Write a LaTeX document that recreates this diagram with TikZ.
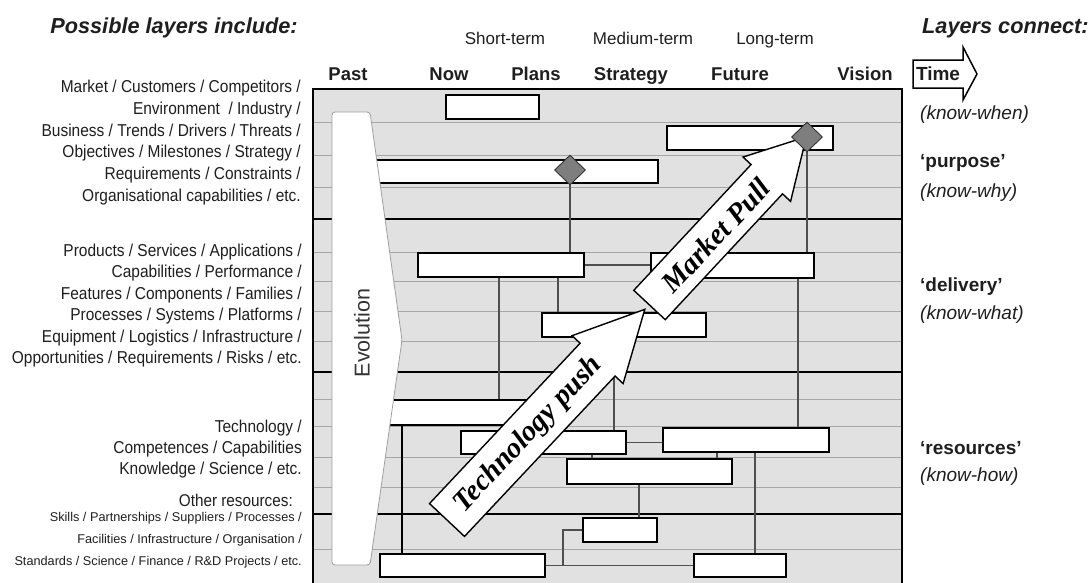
\documentclass[tikz,border=0pt]{standalone}
\usepackage{fontspec}
\setmainfont{Liberation Sans}
\newfontfamily\narrowfont[FakeStretch=0.9]{Liberation Sans}
\newfontfamily\arrowfont{Liberation Serif}
\usetikzlibrary{shapes.geometric}

\pgfdeclarelayer{back}
\pgfdeclarelayer{links}
\pgfdeclarelayer{front}
\pgfsetlayers{back,links,main,front}

\definecolor{panelfill}{HTML}{E1E1E1}
\definecolor{gridc}{HTML}{A6A6A6}
\definecolor{conn}{HTML}{4F4F4F}
\definecolor{markc}{HTML}{7E7E7E}
\definecolor{txt}{HTML}{1E1E1E}

\newcommand{\fs}[2]{\fontsize{#1}{#2}\selectfont}
% a white task bar given by its top-left and bottom-right corners
\newcommand{\taskbar}[5]{\node[bar, minimum width={(#4-#2)*1pt}, minimum height={(#5-#3)*1pt}] (#1) at (#2,#3) {};}

\begin{document}
\begin{tikzpicture}[x=1pt,y=-1pt,
  bar/.style={rectangle, draw=black, fill=white, line width=1.3pt, inner sep=0pt, outer sep=0pt, anchor=north west},
  link/.style={draw=conn, line width=1.2pt},
  gridline/.style={draw=gridc, line width=0.9pt},
  divider/.style={draw=black, line width=2.4pt},
  milestone/.style={diamond, draw=black!80, fill=markc, line width=0.9pt, inner sep=0pt, minimum width=31pt, minimum height=30pt},
  bigarrow/.style={draw=black, fill=white, line width=1.4pt, line join=miter},
  evoshape/.style={draw=gray!75, fill=white, line width=0.8pt, rounded corners=3pt},
  layerlbl/.style={anchor=east, align=right, inner sep=0pt, text=txt},
  hdr/.style={anchor=base, font=\bfseries\fs{18.5}{20}, text=txt},
  term/.style={anchor=base, font=\fs{17}{19}, text=txt},
  side/.style={anchor=west, inner sep=0pt, font=\fs{19}{21}, text=txt},
  title/.style={font=\bfseries\itshape\fs{21.7}{24}, text=txt},
  arrowtext/.style={transform shape, font=\arrowfont\bfseries\itshape\fs{29}{29}}
]
\useasboundingbox (0,0) rectangle (1091,582);

% roadmap panel, row lines and layer dividers
\begin{pgfonlayer}{back}
  \fill[panelfill] (313,89) rectangle (902,586);
  \foreach \yy in {122,155,187,252,281,311,341,399,426,457,487,549}
    \draw[gridline] (313,\yy) -- (902,\yy);
  \foreach \yy in {219,372,514}
    \draw[divider] (313,\yy) -- (902,\yy);
\end{pgfonlayer}

% task bars
\taskbar{A}{446}{95}{539}{119}
\taskbar{B}{667}{126}{833}{150}
\taskbar{C}{352}{160}{658}{183}
\taskbar{D}{418}{253}{584}{277}
\taskbar{E}{651}{253}{814}{278}
\taskbar{G}{542}{313}{706}{337}
\taskbar{F}{360}{400}{540}{425}
\taskbar{H}{461}{431}{626}{454}
\taskbar{I}{663}{428}{829}{452}
\taskbar{J}{567}{459}{732}{484}
\taskbar{L}{583}{518}{657}{542}
\taskbar{K}{380}{554}{545}{577}
\taskbar{M}{694}{554}{786}{577}

\node[milestone] (d1) at (570,170) {};

% links between bars
\begin{pgfonlayer}{links}
  \draw[link] (d1.center) -- (d1.center |- D.north);
  \draw[link] (807,137) -- (E.north -| 807,0);
  \draw[link] (D.east) -- (D.east -| E.west);
  \draw[link] (D.south -| 499,0) -- (F.north -| 499,0);
  \draw[link] (D.south -| 558,0) -- (G.north -| 558,0);
  \draw[link] (E.south -| 798,0) -- (I.north -| 798,0);
  \draw[link] (G.south -| 614,0) -- (H.north -| 614,0);
  \draw[link] (H.east) -- (H.east -| I.west);
  \draw[link] (H.south -| 592,0) -- (J.north -| 592,0);
  \draw[link] (I.south -| 717,0) -- (J.north -| 717,0);
  \draw[link] (I.south -| 755,0) -- (M.north -| 755,0);
  \draw[link] (J.south -| 639,0) -- (L.north -| 639,0);
  \draw[link, draw=black] (F.south -| 402,0) -- (K.north -| 402,0);
  \draw[link] (K.east) -- (K.east -| M.west);
  \draw[link] (K.east -| 563,0) |- (L.west);
\end{pgfonlayer}

% evolution arrow
\draw[evoshape] (332,112) -- (370,112) -- (402,340) -- (370,565) -- (332,565) -- cycle;
\node[rotate=90, font=\fs{21.5}{24}, text=black!80] (evolbl) at (362,333) {Evolution};

% technology push arrow
\begin{scope}[shift={(447,520)}, rotate=46.8]
  \draw[bigarrow] (0,-24) -- (220,-24) -- (220,-35) -- (289,0) -- (220,35) -- (220,24) -- (0,24) -- cycle;
  \node[arrowtext] (pushlbl) at (118,1) {Technology push};
\end{scope}

% market pull arrow
\begin{scope}[shift={(649.5,305)}, rotate=47]
  \draw[bigarrow] (0,-21.5) -- (172,-21.5) -- (172,-32.5) -- (230,0) -- (172,32.5) -- (172,21.5) -- (0,21.5) -- cycle;
  \node[arrowtext] (pulllbl) at (96,1) {Market Pull};
\end{scope}

\node[milestone] (d2) at (807,137) {};

% panel frame
\begin{pgfonlayer}{front}
  \draw[line width=2.4pt] (313,89) rectangle (902,586);
\end{pgfonlayer}

% titles
\node[title] (ltitle) at (174,28) {Possible layers include:};
\node[title, anchor=west, inner sep=0pt] (rtitle) at (922,28) {Layers connect:};

% time horizons
\node[term] (shortt) at (505,44) {Short-term};
\node[term] (mediumt) at (643,44) {Medium-term};
\node[term] (longt) at (775,44) {Long-term};

\node[hdr] (past) at (348,80) {Past};
\node[hdr] (now) at (449,80) {Now};
\node[hdr] (plans) at (536,80) {Plans};
\node[hdr] (strategy) at (631,80) {Strategy};
\node[hdr] (future) at (740,80) {Future};
\node[hdr] (vision) at (865,80) {Vision};

% time arrow
\draw[line width=1.5pt, fill=white, line join=miter] (913,60) -- (963,60) -- (963,47) -- (977,74) -- (963,100) -- (963,88) -- (913,88) -- cycle;
\node[font=\bfseries\fs{19}{20}, text=txt] (timelbl) at (938,74) {Time};

% layer descriptions on the left
\node[layerlbl, font=\narrowfont\fs{17.2}{21.8}] (purposelist) at (301,142.5) {Market / Customers / Competitors /\\
Environment\ \ / Industry /\\
Business / Trends / Drivers / Threats /\\
Objectives / Milestones / Strategy /\hspace{5pt}\\
Requirements / Constraints /\\
Organisational capabilities / etc.};

\node[layerlbl, font=\narrowfont\fs{17.2}{21.4}] (deliverylist) at (302,305.5) {Products / Services / Applications /\\
Capabilities / Performance /\\
Features / Components / Families /\hspace{4pt}\\
Processes / Systems / Platforms /\\
Equipment / Logistics / Infrastructure /\hspace{4pt}\\
Opportunities / Requirements / Risks / etc.};

\node[layerlbl, font=\narrowfont\fs{17.2}{21}] (techlist) at (302,449) {Technology /\\
Competences / Capabilities\\
Knowledge / Science / etc.};

\node[layerlbl, font=\narrowfont\fs{17}{18}] (otherhead) at (293,500) {Other resources:};
\node[layerlbl, font=\fs{12.7}{22}] (otherlist) at (302,540) {Skills / Partnerships / Suppliers / Processes /\hspace{10pt}\\
Facilities / Infrastructure / Organisation /\\
Standards / Science / Finance / R\&D Projects / etc.};

% what each layer connects
\node[side, font=\itshape\fs{19}{21}] (kwhen) at (920,115) {(know-when)};
\node[side, font=\bfseries\fs{19}{21}] (purpose) at (920,163) {‘purpose’};
\node[side, font=\itshape\fs{19}{21}] (kwhy) at (920,193) {(know-why)};
\node[side, font=\bfseries\fs{19}{21}] (delivery) at (920,287) {‘delivery’};
\node[side, font=\itshape\fs{19}{21}] (kwhat) at (920,315) {(know-what)};
\node[side, font=\bfseries\fs{19}{21}] (resources) at (920,448) {‘resources’};
\node[side, font=\itshape\fs{19}{21}] (khow) at (920,477) {(know-how)};
\end{tikzpicture}
\end{document}
